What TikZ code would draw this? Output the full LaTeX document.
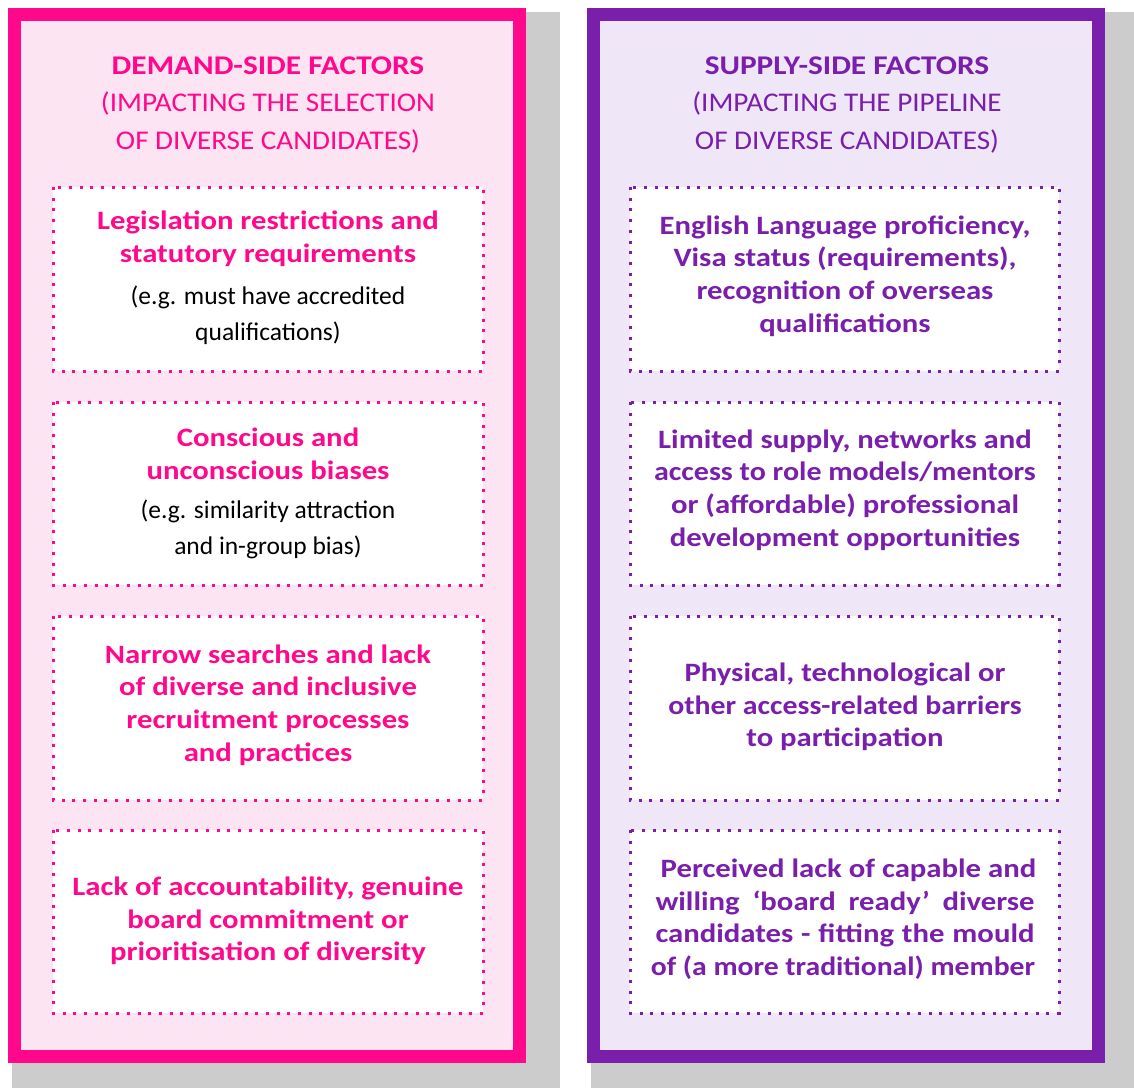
\documentclass[tikz,border=0pt]{standalone}
\usepackage{graphicx}
\usepackage{fontspec}
\setmainfont{Carlito}
\newfontfamily\bstretch{Carlito}[FakeStretch=1.16]
\newfontfamily\hstretch{Carlito}[FakeStretch=1.08]
\definecolor{pinkc}{RGB}{255,8,140}
\definecolor{purc}{RGB}{122,30,172}
\definecolor{pinkbg}{RGB}{253,228,242}
\definecolor{purbg}{RGB}{239,230,247}
\definecolor{shade}{RGB}{204,204,204}
\newcommand\jline[2][379pt]{\makebox[#1][s]{#2}}
\newcommand\squeeze[2]{\scalebox{#1}[1]{#2}}
\begin{document}
\begin{tikzpicture}[x=1pt,y=-1pt,
  shadowbox/.style={fill=shade,draw=none},
  panel/.style={line width=13pt},
  dotbox/.style={fill=white,line width=3pt,dash pattern=on 3pt off 7.7pt},
  head/.style={align=center,inner sep=0pt,font=\fontsize{27}{37.5}\selectfont\hstretch},
  bodyb/.style={align=center,inner sep=0pt,font=\fontsize{26.5}{32.6}\selectfont\bstretch\bfseries},
  bodyr/.style={align=center,inner sep=0pt,text=black,font=\fontsize{25.5}{36}\selectfont}]
\useasboundingbox (0,0) rectangle (1134,1088);
% shadows
\fill[shadowbox] (12,12) rectangle (560,1088);
\fill[shadowbox] (591,12) rectangle (1134,1088);
% panels
\draw[panel,draw=pinkc,fill=pinkbg] (14.5,14.5) rectangle (519.5,1056.5);
\draw[panel,draw=purc,fill=purbg] (593.5,14.5) rectangle (1098.5,1056.5);
% left dotted boxes
\draw[dotbox,draw=pinkc] (53,187) rectangle (483,371);
\draw[dotbox,draw=pinkc] (53,402) rectangle (483,585);
\draw[dotbox,draw=pinkc] (53,616) rectangle (483,800);
\draw[dotbox,draw=pinkc] (53,830) rectangle (483,1013);
% right dotted boxes
\draw[dotbox,draw=purc] (630,187) rectangle (1059,371);
\draw[dotbox,draw=purc] (630,402) rectangle (1059,585);
\draw[dotbox,draw=purc] (630,616) rectangle (1059,800);
\draw[dotbox,draw=purc] (630,830) rectangle (1059,1013);
% headers
\node[head,text=pinkc] (lh) at (268,105) {{\bstretch\bfseries DEMAND-SIDE FACTORS}\\(IMPACTING THE SELECTION\\OF DIVERSE CANDIDATES)};
\node[head,text=purc] (rh) at (847,105) {{\bstretch\bfseries SUPPLY-SIDE FACTORS}\\(IMPACTING THE PIPELINE\\OF DIVERSE CANDIDATES)};
% left texts
\node[bodyb,text=pinkc] (l1) at (268,239) {Legislation restrictions and\\statutory requirements};
\node[bodyr] (l1e) at (268,315.5) {(e.g. must have accredited\\qualifications)};
\node[bodyb,text=pinkc] (l2) at (268,454) {Conscious and\\unconscious biases};
\node[bodyr] (l2e) at (268,529.5) {(e.g. similarity attraction\\and in-group bias)};
\node[bodyb,text=pinkc] (l3) at (268,705) {Narrow searches and lack\\of diverse and inclusive\\recruitment processes\\and practices};
\node[bodyb,text=pinkc] (l4) at (268,921) {Lack of accountability, genuine\\board commitment or\\prioritisation of diversity};
% right texts
\node[bodyb,text=purc] (r1) at (845,276) {English Language proficiency,\\Visa status (requirements),\\recognition of overseas\\qualifications};
\node[bodyb,text=purc] (r2) at (845,490) {Limited supply, networks and\\\squeeze{0.975}{access to role models/mentors}\\or (affordable) professional\\development opportunities};
\node[bodyb,text=purc] (r3) at (845,707) {Physical, technological or\\\squeeze{0.97}{other access-related barriers}\\to participation};
\node[bodyb,text=purc] (r4) at (845,919) {\hspace*{7pt}Perceived lack of capable and\\\jline{willing ‘board ready’ diverse}\\\jline{candidates - fitting the mould}\\\hspace*{-4pt}\squeeze{0.965}{of (a more traditional) member}};
\end{tikzpicture}
\end{document}
